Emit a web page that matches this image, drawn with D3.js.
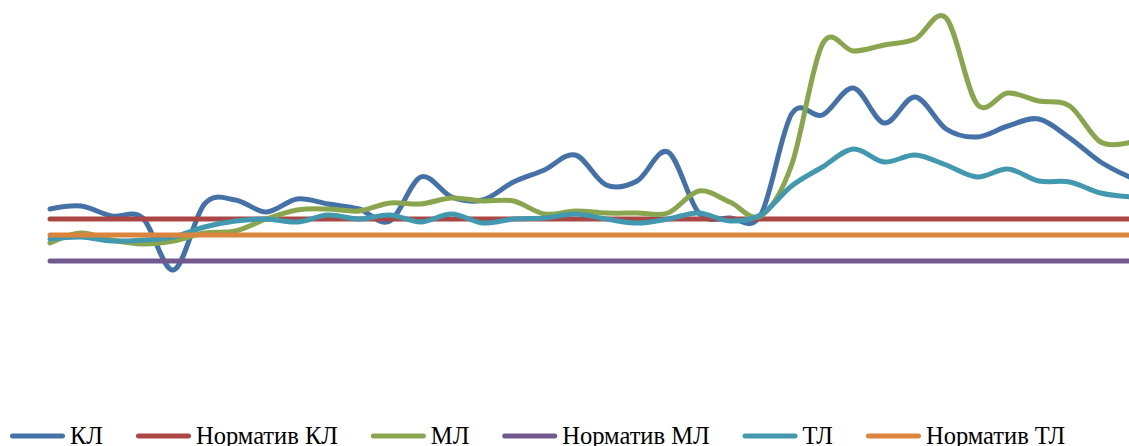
<!DOCTYPE html>
<html>
<head>
<meta charset="utf-8">
<script src="https://cdn.jsdelivr.net/npm/d3@7"></script>
<style>
  html, body { margin: 0; padding: 0; background: #fff; }
  svg { display: block; }
</style>
</head>
<body>
<svg id="chart" width="1129" height="446"></svg>
<script>
// ---- data ----
const periods = d3.range(1, 37);           // 36 observation points
const seriesNames = ["КЛ", "Норматив КЛ", "МЛ", "Норматив МЛ", "ТЛ", "Норматив ТЛ"];
const kl = [19.1, 19.4, 18.4, 18.2, 13.0, 19.6, 20.0, 18.8, 20.1, 19.6, 19.1, 17.9,
            22.3, 20.3, 20.0, 21.8, 23.0, 24.5, 21.5, 21.9, 24.8, 18.7, 18.2, 18.5,
            28.6, 28.5, 31.2, 27.7, 30.3, 27.1, 26.3, 27.4, 28.1, 26.2, 23.8, 22.2];
const ml = [15.7, 16.7, 16.0, 15.6, 15.9, 16.7, 16.9, 18.1, 19.0, 19.1, 18.9, 19.7,
            19.6, 20.2, 19.9, 19.9, 18.6, 18.9, 18.7, 18.7, 18.7, 20.9, 19.8, 18.4,
            23.5, 35.6, 34.9, 35.5, 36.1, 38.2, 29.6, 30.7, 29.9, 29.4, 25.8, 25.8];
const tl = [16.1, 16.3, 15.9, 16.0, 16.3, 17.3, 17.9, 18.1, 17.8, 18.5, 18.1, 18.5,
            17.8, 18.6, 17.7, 18.1, 18.2, 18.6, 18.1, 17.7, 18.1, 18.7, 17.9, 18.5,
            21.4, 23.3, 25.1, 23.8, 24.5, 23.5, 22.3, 23.1, 21.9, 21.8, 20.7, 20.3];
const normKL = 18.1;
const normML = 13.9;
const normTL = 16.5;
const colors = ["#4472A8", "#AA4643", "#89A54E", "#71588F", "#4198AF", "#DB843D"];

// ---- build series ----
const series = [
  { name: seriesNames[0], values: kl },
  { name: seriesNames[1], values: periods.map(() => normKL) },
  { name: seriesNames[2], values: ml },
  { name: seriesNames[3], values: periods.map(() => normML) },
  { name: seriesNames[4], values: tl },
  { name: seriesNames[5], values: periods.map(() => normTL) }
];

const svg = d3.select("#chart");
const W = 1129, H = 446;

const x = d3.scalePoint().domain(periods).range([50, 1131.5]);
const y = d3.scaleLinear().domain([0, 40]).range([400, 0]);

svg.append("defs").append("clipPath").attr("id", "clip")
  .append("rect").attr("x", 0).attr("y", 0).attr("width", W).attr("height", 400);

const line = d3.line()
  .x((d, i) => x(periods[i]))
  .y(d => y(d))
  .curve(d3.curveCatmullRom.alpha(0));

const g = svg.append("g").attr("clip-path", "url(#clip)");
series.forEach((s, k) => {
  g.append("path")
    .attr("d", line(s.values))
    .attr("fill", "none")
    .attr("stroke", colors[k])
    .attr("stroke-width", 5)
    .attr("stroke-linecap", "round")
    .attr("stroke-linejoin", "round");
});

// ---- legend ----
const leg = svg.append("g");
let cx = 10;
const sampleW = 55, textGap = 5, itemGap = 33, ly = 436;
series.forEach((s, k) => {
  leg.append("line")
    .attr("x1", cx + 2.5).attr("x2", cx + sampleW - 2.5)
    .attr("y1", ly).attr("y2", ly)
    .attr("stroke", colors[k]).attr("stroke-width", 5)
    .attr("stroke-linecap", "round");
  const t = leg.append("text")
    .attr("x", cx + sampleW + textGap).attr("y", 444)
    .attr("font-family", "'Liberation Serif', 'DejaVu Serif', serif")
    .attr("font-size", 24.5)
    .attr("fill", "#000")
    .text(s.name);
  cx += sampleW + textGap + t.node().getComputedTextLength() + itemGap;
});
</script>
</body>
</html>
